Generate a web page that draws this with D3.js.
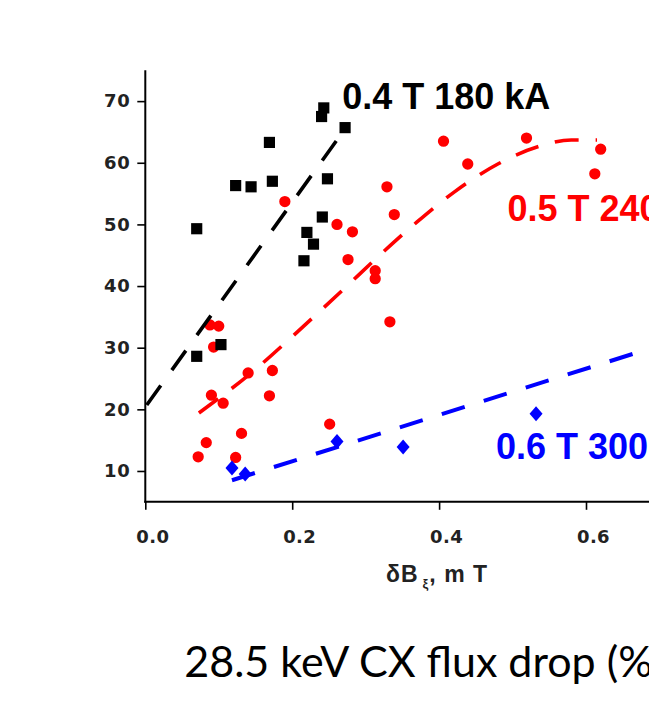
<!DOCTYPE html>
<html>
<head>
<meta charset="utf-8">
<script src="https://cdn.jsdelivr.net/npm/d3@7"></script>
<style>
  html, body { margin: 0; padding: 0; background: #fff; }
  svg { display: block; }
</style>
</head>
<body>
<svg id="chart" width="649" height="718"></svg>
<script>
// Measured points: perturbation amplitude (mT) vs. CX flux drop (%)
const points180 = [
  [0.070, 49.3], [0.070, 28.6], [0.103, 30.5], [0.123, 56.3], [0.144, 56.1],
  [0.169, 63.3], [0.173, 57.0], [0.216, 44.1], [0.220, 48.7], [0.229, 46.8],
  [0.241, 51.2], [0.248, 57.4], [0.243, 68.9], [0.240, 67.5], [0.272, 65.7]
];
const points240 = [
  [0.072, 12.3], [0.083, 14.6], [0.090, 22.3], [0.106, 21.0], [0.093, 30.1],
  [0.088, 33.7], [0.100, 33.5], [0.123, 12.2], [0.131, 16.1], [0.140, 25.9],
  [0.169, 22.2], [0.173, 26.3], [0.190, 53.7], [0.261, 50.0], [0.282, 48.8],
  [0.276, 44.3], [0.313, 42.5], [0.313, 41.2], [0.329, 56.1], [0.339, 51.6],
  [0.406, 63.5], [0.439, 59.8], [0.519, 64.0], [0.620, 62.2], [0.612, 58.2],
  [0.333, 34.2], [0.251, 17.6]
];
const points300 = [
  [0.118, 10.5], [0.136, 9.5], [0.261, 14.8], [0.351, 13.9], [0.532, 19.3]
];

// Trend lines for each regime
const trend180 = [[0.002, 20.7], [0.276, 66.2]];
const trend240 = [
  [0.073, 19.4], [0.150, 26.5], [0.200, 31.8], [0.270, 39.5], [0.320, 45.1],
  [0.370, 50.4], [0.420, 55.2], [0.480, 59.8], [0.540, 62.8], [0.580, 63.7],
  [0.615, 63.7]
];
const trend300 = [[0.118, 8.5], [0.720, 31.1]];

// Axis ticks
const xTickValues = [0.0, 0.2, 0.4, 0.6];
const xMinorTicks = [0.1, 0.3, 0.5, 0.7];
const yTickValues = [10, 20, 30, 40, 50, 60, 70];
const yMinorTicks = [5, 15, 25, 35, 45, 55, 65, 75];

// Series captions: [text, x, y, colour]
const captions = [
  ["0.4 T 180 kA", 0.268, 68.8, "#000000"],
  ["0.5 T 240 kA", 0.493, 50.6, "#ff0000"],
  ["0.6 T 300 kA", 0.4775, 12.0, "#0000ff"]
];
const xTitle = ["δB", "ξ", ", m T"];
const bottomTitle = "28.5 keV CX flux drop (%)";

const svg = d3.select("#chart");
svg.append("rect").attr("width", 649).attr("height", 718).attr("fill", "#fff");

const x = d3.scaleLinear().domain([0, 0.7]).range([145.3, 145.3 + 0.7 * 734.5]);
const y = d3.scaleLinear().domain([5, 75]).range([501.8, 70.3]);

const tickFont = "'DejaVu Sans', sans-serif";

// Y axis
const gy = svg.append("g").attr("transform", `translate(${x(0)},0)`);
gy.call(d3.axisLeft(y).tickValues(yMinorTicks).tickSize(4).tickFormat("").tickSizeOuter(0));
gy.call(d3.axisLeft(y).tickValues(yTickValues).tickSize(8).tickPadding(7).tickSizeOuter(0)
  .tickFormat(d3.format("d")));
gy.selectAll("path.domain").attr("stroke-width", 2).attr("d", `M0,${y(75)}V${y(5) + 1}`);
gy.selectAll(".tick line").attr("stroke-width", 1.6);
gy.selectAll(".tick text")
  .attr("font-family", tickFont).attr("font-weight", "bold").attr("font-size", 18)
  .attr("letter-spacing", 0.6).attr("fill", "#222");

// X axis
const gx = svg.append("g").attr("transform", `translate(0,${y(5)})`);
gx.call(d3.axisBottom(x).tickValues(xMinorTicks).tickSize(4).tickFormat("").tickSizeOuter(0));
gx.call(d3.axisBottom(x).tickValues(xTickValues).tickSize(8).tickPadding(20).tickSizeOuter(0)
  .tickFormat(d3.format(".1f")));
gx.selectAll("path.domain").attr("stroke-width", 2).attr("d", `M${x(0) - 1},0H${x(0.7)}`);
gx.selectAll(".tick line").attr("stroke-width", 1.6);
gx.selectAll(".tick text")
  .attr("font-family", tickFont).attr("font-weight", "bold").attr("font-size", 18)
  .attr("letter-spacing", 0.4).attr("fill", "#222").attr("dx", 7);

// X axis title
const xt = svg.append("text")
  .attr("x", 386).attr("y", 582)
  .attr("font-family", "'Liberation Sans', Arial, sans-serif")
  .attr("font-weight", "bold").attr("font-size", 23)
  .attr("letter-spacing", 1).attr("fill", "#222");
xt.append("tspan").text(xTitle[0]);
xt.append("tspan").attr("font-size", 13).attr("dy", 6).attr("dx", 4).text(xTitle[1]);
xt.append("tspan").attr("dy", -6).text(xTitle[2]);

const line = d3.line().x(d => x(d[0])).y(d => y(d[1]));
const curve = d3.line().x(d => x(d[0])).y(d => y(d[1])).curve(d3.curveMonotoneX);

const squarePath = d3.symbol(d3.symbolSquare, 125)();
const circlePath = d3.symbol(d3.symbolCircle, 100)();
const diamondPath = "M0,-7.5L6.5,0L0,7.5L-6.5,0Z";

// 240 kA series
svg.append("g").selectAll("path").data(points240).join("path")
  .attr("d", circlePath).attr("fill", "#ff0000")
  .attr("transform", d => `translate(${x(d[0])},${y(d[1])})`);
svg.append("path").datum(trend240).attr("d", curve)
  .attr("fill", "none").attr("stroke", "#ff0000").attr("stroke-width", 3.6)
  .attr("stroke-dasharray", "24,17");

// 300 kA series
svg.append("g").selectAll("path").data(points300).join("path")
  .attr("d", diamondPath).attr("fill", "#0000ff")
  .attr("transform", d => `translate(${x(d[0])},${y(d[1])})`);
svg.append("path").datum(trend300).attr("d", line)
  .attr("fill", "none").attr("stroke", "#0000ff").attr("stroke-width", 4)
  .attr("stroke-dasharray", "24,20");

// 180 kA series
svg.append("g").selectAll("path").data(points180).join("path")
  .attr("d", squarePath).attr("fill", "#000")
  .attr("transform", d => `translate(${x(d[0])},${y(d[1])})`);
svg.append("path").datum(trend180).attr("d", line)
  .attr("fill", "none").attr("stroke", "#000").attr("stroke-width", 3.6)
  .attr("stroke-dasharray", "24,19");

// Series captions
svg.append("g").selectAll("text").data(captions).join("text")
  .attr("x", d => x(d[1])).attr("y", d => y(d[2]))
  .attr("font-family", "'Liberation Sans', Arial, sans-serif")
  .attr("font-weight", "bold").attr("font-size", 36)
  .attr("fill", d => d[3]).text(d => d[0]);

// Bottom caption
svg.append("text")
  .attr("x", 184.3).attr("y", 676.7)
  .attr("font-family", "Lato, 'Open Sans', sans-serif")
  .attr("font-size", 43).attr("fill", "#000")
  .text(bottomTitle);
</script>
</body>
</html>
